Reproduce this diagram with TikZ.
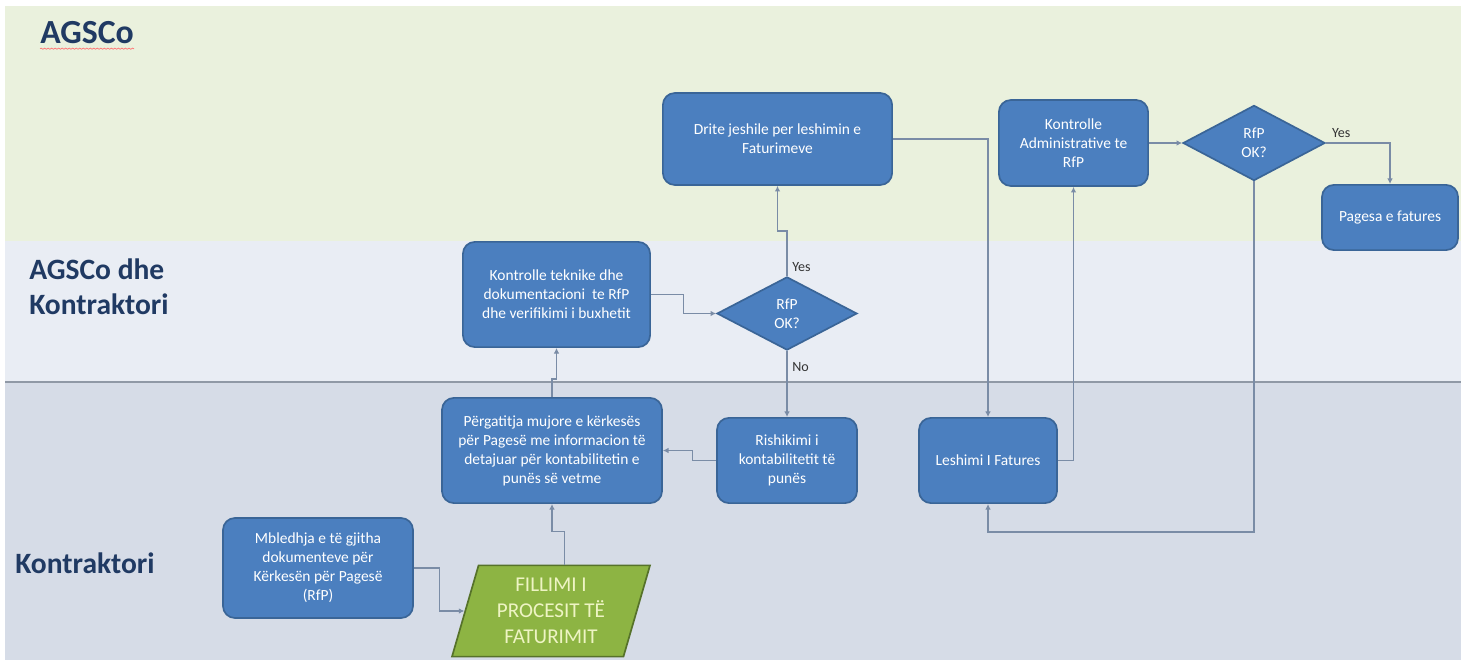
\documentclass[tikz,border=0pt]{standalone}
\usepackage{fontspec}
\setmainfont{Carlito}
\usetikzlibrary{shapes.geometric,arrows.meta,calc,decorations.pathmorphing}

\definecolor{lanegreen}{HTML}{EAF1DD}
\definecolor{lanemid}{HTML}{E9EDF4}
\definecolor{lanelow}{HTML}{D6DCE7}
\definecolor{lanerule}{HTML}{9099A6}
\definecolor{lanetext}{HTML}{203A63}
\definecolor{boxblue}{HTML}{4B7FBF}
\definecolor{boxedge}{HTML}{3A6597}
\definecolor{linecol}{HTML}{7A8CA6}
\definecolor{startgreen}{HTML}{8DB443}
\definecolor{startedge}{HTML}{56722A}
\definecolor{starttext}{HTML}{EEF4C4}

\begin{document}
\begin{tikzpicture}[x=0.025cm, y=-0.025cm,
    box/.style={draw=boxedge, fill=boxblue, line width=1.2pt, rounded corners=0.3cm,
      text=white, align=center, font=\fontsize{11}{13.5}\selectfont},
    decision/.style={diamond, draw=boxedge, fill=boxblue, line width=1.2pt, inner sep=0pt,
      text=white, align=center, font=\fontsize{11}{13.5}\selectfont},
    conn/.style={draw=linecol, line width=0.8pt, -{Latex[length=4pt,width=4pt]}},
    answer/.style={font=\fontsize{10}{12}\selectfont, text=black!80},
    lanelabel/.style={anchor=west, inner sep=0pt, text=lanetext, align=left,
      font=\fontsize{21}{25}\selectfont\bfseries}]
    \useasboundingbox (0,0) rectangle (1470,662);

    %lanes
    \fill[lanegreen] (5,6) rectangle (1461,241);
    \fill[lanemid] (5,241) rectangle (1461,382);
    \fill[lanelow] (5,382) rectangle (1461,660);
    \draw[lanerule, line width=2pt] (5,382) -- (1461,382);

    \node[lanelabel, font=\fontsize{24}{28}\selectfont\bfseries] (lblagsco) at (40,33) {AGSCo};
    \draw[red!55, line width=0.5pt, decorate, decoration={snake, amplitude=0.4pt, segment length=2.5pt}]
      ([yshift=-3pt]lblagsco.south west) -- ([yshift=-3pt]lblagsco.south east);
    \node[lanelabel] (lblboth) at (29,287) {AGSCo dhe\\Kontraktori};
    \node[lanelabel] (lblkontr) at (15,563) {Kontraktori};

    %steps
    \node[box, minimum width=5.73cm, minimum height=2.3cm] (drite) at (777.5,139) {Drite jeshile per leshimin e\\Faturimeve};
    \node[box, minimum width=3.73cm, minimum height=2.15cm] (admin) at (1073.5,143) {Kontrolle\\Administrative te\\RfP};
    \node[decision, minimum width=3.55cm, minimum height=1.88cm] (dtop) at (1254,143) {RfP\\OK?};
    \node[box, minimum width=3.4cm, minimum height=1.63cm] (pagesa) at (1390,217.5) {Pagesa e fatures};
    \node[box, minimum width=4.68cm, minimum height=2.63cm] (teknike) at (556.5,294.5) {Kontrolle teknike dhe\\dokumentacioni\ \ te RfP\\dhe verifikimi i buxhetit};
    \node[decision, minimum width=3.5cm, minimum height=1.83cm] (dmid) at (787,313.5) {RfP\\OK?};
    \node[box, minimum width=5.5cm, minimum height=2.63cm] (pergat) at (552,450.5) {Përgatitja mujore e kërkesës\\për Pagesë me informacion të\\detajuar për kontabilitetin e\\punës së vetme};
    \node[box, minimum width=3.5cm, minimum height=2.13cm] (rishik) at (787,460.5) {Rishikimi i\\kontabilitetit të\\punës};
    \node[box, minimum width=3.45cm, minimum height=2.13cm] (leshim) at (988,460.5) {Leshimi I Fatures};
    \node[box, minimum width=4.75cm, minimum height=2.5cm] (mbledh) at (318,568) {Mbledhja e të gjitha\\dokumenteve për\\Kërkesën për Pagesë\\(RfP)};
    \node[trapezium, trapezium left angle=74, trapezium right angle=106, trapezium stretches=true,
      draw=startedge, fill=startgreen, line width=1.2pt, minimum width=4.95cm, minimum height=2.28cm,
      text=starttext, align=center, font=\fontsize{15}{18.5}\selectfont] (fillimi) at (551,611) {FILLIMI I\\PROCESIT TË\\FATURIMIT};

    %flow
    \draw[conn] (mbledh.east) -| ($(mbledh.east)!0.5!(fillimi.left side)$) |- (fillimi.left side);
    \draw[conn] (fillimi.top side) -- ++(0,-33) -| (pergat.south);
    \draw[conn] (pergat.north) -- ++(0,-18) -| (teknike.south);
    \draw[conn] (teknike.east) -| ($(teknike.east)!0.5!(dmid.west)$) |- (dmid.west);
    \draw[conn] (dmid.north) -- node[answer, pos=0.2, right]{Yes} ++(0,-45) -| (drite.south);
    \draw[conn] (dmid.south) -- node[answer, pos=0.25, right]{No} (rishik.north);
    \draw[conn] (rishik.west) -| ($(rishik.west)!0.45!(pergat.east)$) |- (pergat.east);
    \draw[conn] (drite.east) -| (leshim.north);
    \draw[conn] (leshim.east) -| (admin.south);
    \draw[conn] (admin.east) -- (dtop.west);
    \draw[conn] (dtop.east) -| node[answer, pos=0.12, above]{Yes} (pagesa.north);
    \draw[conn] (dtop.south) -- ($(dtop.south |- leshim.south)+(0,28)$) -| (leshim.south);
  \end{tikzpicture}
\end{document}
